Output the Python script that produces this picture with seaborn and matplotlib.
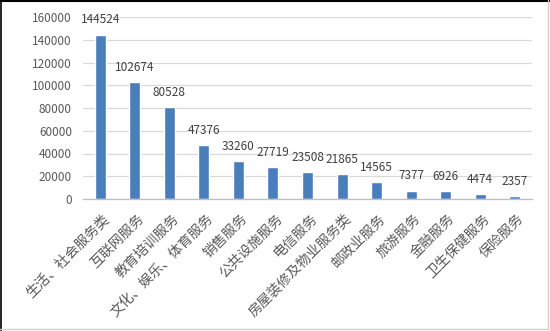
import matplotlib
matplotlib.use("Agg")
import matplotlib.pyplot as plt
import matplotlib.transforms as mtransforms
from matplotlib.lines import Line2D
import seaborn as sns

categories = ["生活、社会服务类", "互联网服务", "教育培训服务", "文化、娱乐、体育服务", "销售服务",
              "公共设施服务", "电信服务", "房屋装修及物业服务类", "邮政业服务", "旅游服务",
              "金融服务", "卫生保健服务", "保险服务"]
values = [144524, 102674, 80528, 47376, 33260, 27719, 23508, 21865, 14565, 7377, 6926, 4474, 2357]
yticks = [0, 20000, 40000, 60000, 80000, 100000, 120000, 140000, 160000]

sns.set_style("white")
plt.rcParams['font.family'] = ['Noto Sans CJK SC', 'DejaVu Sans']

W, H = 550, 331
fig = plt.figure(figsize=(W / 100, H / 100), dpi=100)
ax = fig.add_axes([83 / W, (H - 199) / H, (532 - 83) / W, (199 - 17) / H])

sns.barplot(x=categories, y=values, color="#4a7ebb", saturation=1, width=0.32, ax=ax)

ax.set_xlim(-0.5, len(categories) - 0.5)
ax.set_ylim(0, 160000)
ax.set_yticks(yticks)
ax.set_yticklabels([str(v) for v in yticks], fontsize=8.5, color="#595959")
ax.yaxis.grid(True, color="#d9d9d9", linewidth=0.9)
ax.set_axisbelow(True)
for s in ["top", "right", "left"]:
    ax.spines[s].set_visible(False)
ax.spines["bottom"].set_color("#bfbfbf")
ax.spines["bottom"].set_linewidth(0.9)
ax.tick_params(axis="y", length=0, pad=8)
ax.tick_params(axis="x", length=0, pad=12.5)
ax.set_xlabel("")
ax.set_ylabel("")

offset = mtransforms.ScaledTranslation(7 / 100, 0, fig.dpi_scale_trans)
for lab in ax.get_xticklabels():
    lab.set_rotation(45)
    lab.set_ha("right")
    lab.set_va("center")
    lab.set_rotation_mode("anchor")
    lab.set_fontsize(10)
    lab.set_fontweight("light")
    lab.set_color("#595959")
    lab.set_transform(lab.get_transform() + offset)

ax.bar_label(ax.containers[0], labels=[str(v) for v in values], padding=6,
             fontsize=8.5, color="#404040")

# figure border
fig.add_artist(Line2D([0, 1], [1 - 1 / H, 1 - 1 / H], transform=fig.transFigure, color="black", lw=1.5))
fig.add_artist(Line2D([0.5 / W, 0.5 / W], [0, 1], transform=fig.transFigure, color="black", lw=1.2))
fig.add_artist(Line2D([0, 548 / W], [(H - 329) / H] * 2, transform=fig.transFigure, color="#d0d0d0", lw=1))
fig.add_artist(Line2D([548 / W] * 2, [(H - 329) / H, 1], transform=fig.transFigure, color="#d0d0d0", lw=1))

fig.savefig("out.png", dpi=100)
